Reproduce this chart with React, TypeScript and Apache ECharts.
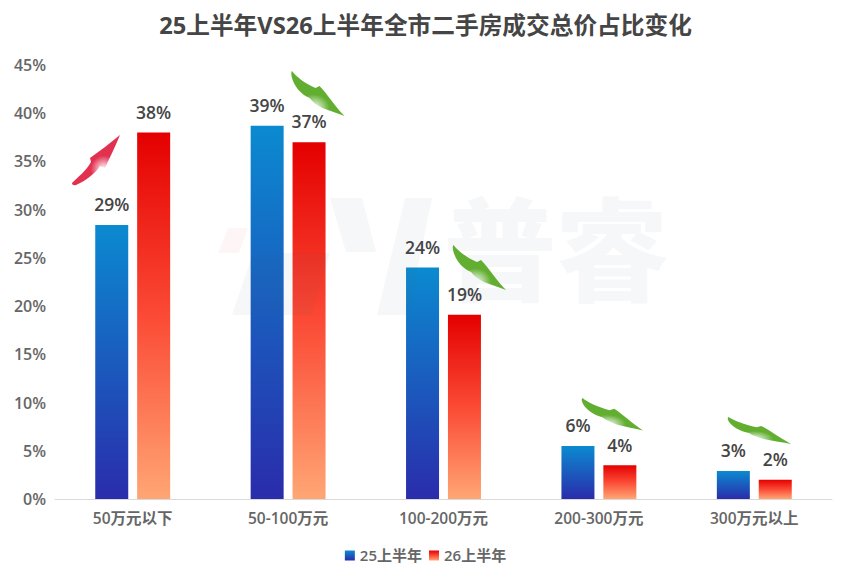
import { useEffect, useRef } from 'react';
import * as echarts from 'echarts';

const categories = ['50万元以下', '50-100万元', '100-200万元', '200-300万元', '300万元以上'];
const values25 = [28.4, 38.7, 24, 5.5, 2.9];
const values26 = [38, 37, 19.1, 3.5, 2];
const labels25 = ['29%', '39%', '24%', '6%', '3%'];
const labels26 = ['38%', '37%', '19%', '4%', '2%'];

// hand drawn trend arrows
echarts.graphic.registerShape(
  'arrowDown',
  echarts.graphic.extendPath(
    'M0.5,0 C4,5 14,13 24,17 L28,15 C36,23 44,36 53,45 C46,42 38,40 31,37 C25,34 21,31 18,27 C10,24 2,15 0,5 C-0.5,2 0,0.5 0.5,0 Z',
    {}
  )
);
echarts.graphic.registerShape(
  'arrowUp',
  echarts.graphic.extendPath(
    'M0,48 C6,42 14,36 19,27 L18,23 C28,16 38,8 48,0 C44,10 38,22 33,33 L28,31 C24,38 12,47 4,50 C2,50.5 0,50 0,48 Z',
    {}
  )
);

const FONT = '"Open Sans", "Noto Sans CJK SC", sans-serif';

const greenFill = () =>
  new echarts.graphic.RadialGradient(0.42, 0.82, 0.3, [
    { offset: 0, color: '#ffffff' },
    { offset: 1, color: '#62ae30' },
  ]);

const greenArrow = (x: number, y: number, scaleX: number, scaleY: number) => ({
  type: 'arrowDown',
  x,
  y,
  scaleX,
  scaleY,
  z: 20,
  style: { fill: greenFill() },
});

const wmColor = 'rgba(70,100,120,0.05)';
const wmPoly = (points: number[][], fill = wmColor) => ({
  type: 'polygon',
  z: 10,
  silent: true,
  shape: { points },
  style: { fill },
});

export default function App() {
  const ref = useRef<HTMLDivElement>(null);

  useEffect(() => {
    if (!ref.current) return;
    const chart = echarts.init(ref.current, undefined, { renderer: 'svg' });

    const blue = new echarts.graphic.LinearGradient(0, 0, 0, 1, [
      { offset: 0, color: '#0b8ad0' },
      { offset: 1, color: '#2a2cab' },
    ]);
    const red = new echarts.graphic.LinearGradient(0, 0, 0, 1, [
      { offset: 0, color: '#e40000' },
      { offset: 0.5, color: '#fb4a35' },
      { offset: 1, color: '#ffa674' },
    ]);

    const labelStyle = {
      show: true,
      position: 'top',
      distance: 12,
      fontFamily: FONT,
      fontSize: 17.5,
      fontWeight: 600,
      color: '#454545',
    };

    chart.setOption({
      animation: false,
      backgroundColor: '#ffffff',
      title: {
        text: '25上半年VS26上半年全市二手房成交总价占比变化',
        left: 'center',
        top: 8,
        textStyle: { fontFamily: FONT, fontSize: 23.7, fontWeight: 700, color: '#454545' },
      },
      legend: {
        bottom: 13,
        left: 'center',
        icon: 'rect',
        itemWidth: 10,
        itemHeight: 10,
        itemGap: 7,
        textStyle: { fontFamily: FONT, fontSize: 15, fontWeight: 600, color: '#666666' },
      },
      grid: { left: 55, right: 19, top: 65, bottom: 82 },
      xAxis: {
        type: 'category',
        data: categories,
        axisTick: { show: false },
        axisLine: { lineStyle: { color: '#d9d9d9', width: 1 } },
        axisLabel: { fontFamily: FONT, fontSize: 15.5, fontWeight: 600, color: '#666666', margin: 11 },
      },
      yAxis: {
        type: 'value',
        min: 0,
        max: 45,
        interval: 5,
        axisLine: { show: false },
        axisTick: { show: false },
        splitLine: { show: false },
        axisLabel: { formatter: '{value}%', fontFamily: FONT, fontSize: 16, fontWeight: 600, color: '#666666', margin: 9 },
      },
      series: [
        {
          name: '25上半年',
          type: 'bar',
          data: values25,
          barWidth: 33,
          barGap: '27%',
          itemStyle: { color: blue },
          label: { ...labelStyle, formatter: (p: any) => labels25[p.dataIndex] },
        },
        {
          name: '26上半年',
          type: 'bar',
          data: values26,
          barWidth: 33,
          itemStyle: { color: red },
          label: { ...labelStyle, formatter: (p: any) => labels26[p.dataIndex] },
        },
      ],
      graphic: [
        // faint watermark
        wmPoly([[218, 253], [228, 228], [248, 228], [239, 253]], 'rgba(235,70,70,0.05)'),
        wmPoly([[232, 315], [253, 253], [330, 253], [312, 315]]),
        wmPoly([[330, 198], [362, 198], [376, 252], [346, 252]]),
        wmPoly([[377, 315], [405, 198], [432, 198], [408, 315]]),
        {
          type: 'text',
          x: 444,
          y: 188,
          z: 10,
          silent: true,
          style: {
            text: '普睿',
            fontFamily: '"Noto Sans CJK SC"',
            fontSize: 112,
            fontWeight: 900,
            fill: wmColor,
          },
        },
        // trend arrows
        {
          type: 'arrowUp',
          x: 72,
          y: 135,
          z: 20,
          style: {
            fill: new echarts.graphic.RadialGradient(0.66, 0.68, 0.27, [
              { offset: 0, color: '#ffffff' },
              { offset: 1, color: '#e2304f' },
            ]),
          },
        },
        greenArrow(291.5, 71, 1, 1),
        greenArrow(453, 245, 1, 1),
        greenArrow(582, 398, 1.15, 0.72),
        greenArrow(728, 417, 1.19, 0.6),
      ],
    });

    return () => {
      chart.dispose();
    };
  }, []);

  return <div ref={ref} style={{ position: 'fixed', left: 0, top: 0, width: 851, height: 581 }} />;
}
